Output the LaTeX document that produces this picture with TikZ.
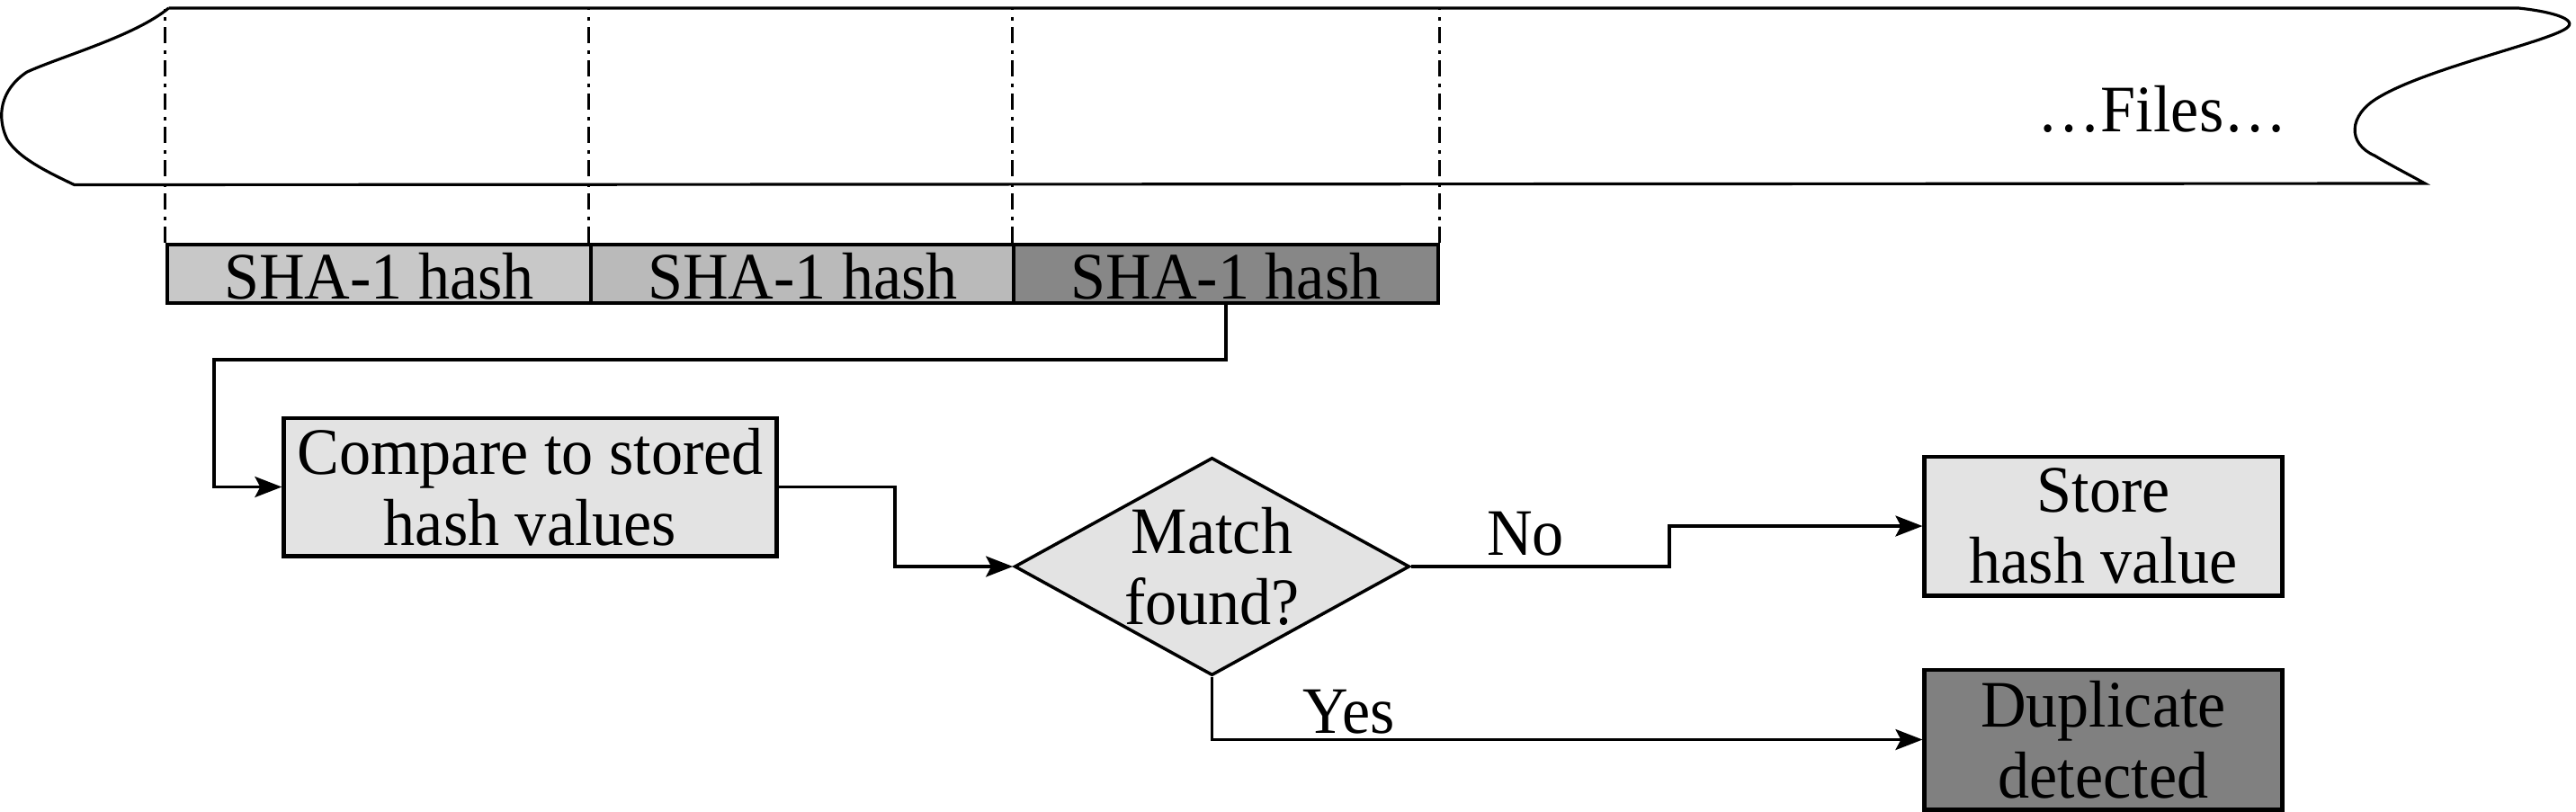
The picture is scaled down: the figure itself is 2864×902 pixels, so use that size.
\documentclass[tikz,border=0pt]{standalone}
\usepackage{fontspec}
\setmainfont{Liberation Serif}[FakeStretch=0.95]
\usetikzlibrary{shapes.geometric,arrows.meta}
\definecolor{shaA}{HTML}{C8C8C8}
\definecolor{shaB}{HTML}{BABABA}
\definecolor{shaC}{HTML}{878787}
\definecolor{lightfill}{HTML}{E3E3E3}
\definecolor{darkfill}{HTML}{808080}
\begin{document}
\begin{tikzpicture}[x=0.01cm,y=-0.01cm,
  font=\fontsize{21}{22.4}\selectfont,
  procbox/.style={draw, line width=1.4pt, fill=lightfill, inner sep=0pt, align=center},
  shabox/.style={draw, line width=1.2pt, inner sep=0pt, minimum width=4.71cm, text height=0.6cm, text depth=0.05cm},
  conn/.style={line width=0.9pt, -{Stealth[length=0.3cm,width=0.23cm,inset=0.06cm]}},
  guide/.style={line width=0.8pt, dash pattern=on 0.18cm off 0.07cm on 0.04cm off 0.08cm},
  band/.style={line width=0.9pt},
  lbl/.style={inner sep=0pt, anchor=base}]
\useasboundingbox (0,0) rectangle (2864,902);

% file band
\draw[band] (187.5,9) -- (2800,9)
  .. controls (2830,12) and (2865,20) .. (2855,30)
  .. controls (2840,45) and (2700,75) .. (2645,108)
  .. controls (2610,128) and (2610,160) .. (2640,173)
  .. controls (2660,185) and (2680,195) .. (2696,204)
  -- (82.6,205.5)
  .. controls (50,190) and (20,175) .. (8,155)
  .. controls (-4,130) and (0,100) .. (30,80)
  .. controls (70,62) and (150,40) .. (187.5,9);
\node (files) [inner sep=0pt, anchor=base west] at (2265,146) {…Files…};

% hash boxes
\node[shabox, fill=shaA] (sha1) at (421.5,304.5) {SHA-1 hash};
\node[shabox, fill=shaB] (sha2) at (892.5,304.5) {SHA-1 hash};
\node[shabox, fill=shaC] (sha3) at (1363,304.5) {SHA-1 hash};

\coordinate (top) at (0,10);
\draw[guide] (sha1.north west) -- (sha1.north west |- top);
\draw[guide] (sha2.north west) -- (sha2.north west |- top);
\draw[guide] (sha3.north west) -- (sha3.north west |- top);
\draw[guide] (sha3.north east) -- (sha3.north east |- top);

% flow nodes
\node[procbox, minimum width=5.47cm, minimum height=1.53cm] (compare) at (589.5,541.5) {Compare to stored\\hash values};
\node[draw, line width=1.0pt, fill=lightfill, shape=diamond, aspect=1.8, inner sep=0pt,
      minimum width=4.39cm, minimum height=2.42cm, align=center] (match) at (1347.5,630) {Match\\found?};
\node[procbox, minimum width=3.97cm, minimum height=1.54cm] (store) at (2338.5,585) {Store\\hash value};
\node[procbox, fill=darkfill, minimum width=3.97cm, minimum height=1.55cm] (dup) at (2338.5,822.5) {Duplicate\\detected};

% connectors
\coordinate (b1) at (238,400);
\draw[conn] (sha3.south) |- (b1) |- (compare.west);
\coordinate (b2) at (995,630);
\draw[conn] (compare.east) -| (b2) -- (match.west);
\coordinate (b3) at (1856,630);
\draw[conn] (match.east) -- (b3) |- (store.west);
\draw[conn] (match.south) |- (dup.west);

\node[lbl] (no) at (1696,617) {No};
\node[lbl] (yes) at (1500,815) {Yes};
\end{tikzpicture}
\end{document}
